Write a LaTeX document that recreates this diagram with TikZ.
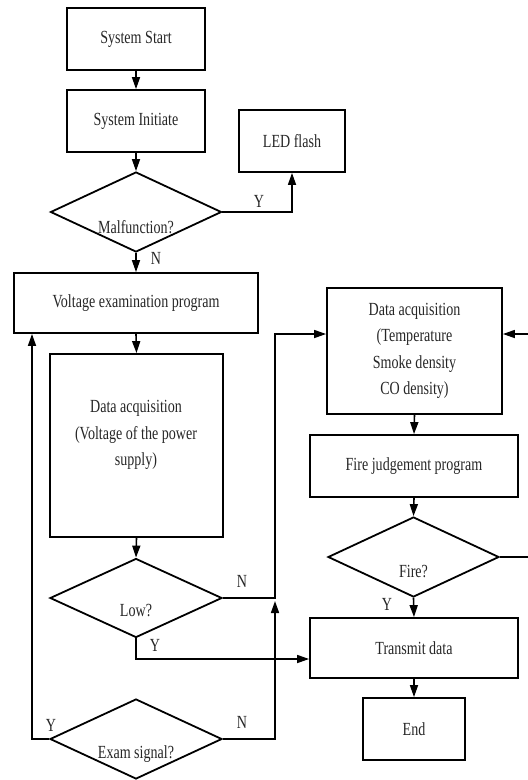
\documentclass[tikz,border=0pt]{standalone}
\usepackage{fontspec}
\setmainfont{Liberation Serif}[FakeStretch=0.76]
\usetikzlibrary{arrows.meta,shapes.geometric,calc}
\begin{document}
\begin{tikzpicture}[x=1pt,y=-1pt,
  every node/.style={font=\fontsize{18.5}{26.5}\selectfont, text=black!85, inner sep=0pt, align=center},
  box/.style={draw=black, line width=1.8pt, rectangle, minimum width=#1},
  dia/.style={draw=black, line width=1.8pt, diamond, minimum width=171pt, minimum height=80pt},
  conn/.style={line width=1.6pt, draw=black},
  arr/.style={conn, -{Triangle[length=12pt,width=8pt]}},
  lbl/.style={font=\fontsize{18.5}{20}\selectfont}
]
\useasboundingbox (0,0) rectangle (528,780);

% left column
\node[box=138pt, minimum height=62pt] (start) at (136,39) {System Start};
\node[box=138pt, minimum height=62pt] (init) at (136,121) {System Initiate};
\node[dia] (malf) at (136,212) {};
\node (malft) at (136,227) {Malfunction?};
\node[box=106pt, minimum height=62pt] (led) at (292,141) {LED flash};
\node[box=244pt, minimum height=60pt] (volt) at (136,303) {Voltage examination program};
\node[box=173pt, minimum height=183pt] (daq1) at (136.5,445.5) {};
\node (daq1t) at (136,435) {Data acquisition\\(Voltage of the power\\supply)};
\node[dia, minimum width=172pt, minimum height=79pt] (low) at (136,598) {};
\node (lowt) at (136,610) {Low?};
\node[dia, minimum width=172pt] (exam) at (136,739) {};
\node (examt) at (136,754) {Exam signal?};

% right column
\node[box=175pt, minimum height=126pt] (daq2) at (414.5,351) {Data acquisition\\(Temperature\\Smoke density\\CO density)};
\node[box=208pt, minimum height=62pt] (fj) at (414,466) {Fire judgement program};
\node[dia] (fire) at (413.5,557) {};
\node (firet) at (413.5,571) {Fire?};
\node[box=208pt, minimum height=60pt] (tx) at (414,648) {Transmit data};
\node[box=102pt, minimum height=62pt] (endn) at (414,729) {End};

% helper coordinates
\coordinate (jl) at (275,598);
\coordinate (jt) at (275,334);
\coordinate (je) at (275,739);
\coordinate (ly) at (136,659);
\coordinate (ex) at (32,739);
\coordinate (fr) at (540,557);
\coordinate (frt) at (540,334);

% connectors
\draw[arr] (start.south) -- (init.north);
\draw[arr] (init.south) -- (malf.north);
\draw[arr] (malf.east) -| (led.south);
\draw[arr] (malf.south) -- (volt.north);
\draw[arr] (volt.south) -- (daq1.north);
\draw[arr] (daq1.south) -- (low.north);
\draw[arr] (low.east) -- (jl) -- (jt) -- (daq2.west |- jt);
\draw[arr, shorten >=3pt] (exam.east) -- (je) -- (jl);
\draw[arr] (low.south) -- (ly) -- (tx.west |- ly);
\draw[arr] (exam.west) -- (ex) -- (ex |- volt.south);
\draw[arr] (daq2.south) -- (fj.north);
\draw[arr] (fj.south) -- (fire.north);
\draw[arr] (fire.south) -- (tx.north);
\draw[arr] (tx.south) -- (endn.north);
\draw[arr] (fire.east) -- (fr) -- (frt) -- (daq2.east |- frt);

% labels
\node[lbl] (lY1) at (259,201) {Y};
\node[lbl] (lN1) at (156,258) {N};
\node[lbl] (lN2) at (242,581) {N};
\node[lbl] (lY2) at (155,645) {Y};
\node[lbl] (lY3) at (51,725) {Y};
\node[lbl] (lN3) at (242,722) {N};
\node[lbl] (lY4) at (387,604) {Y};
\end{tikzpicture}
\end{document}
